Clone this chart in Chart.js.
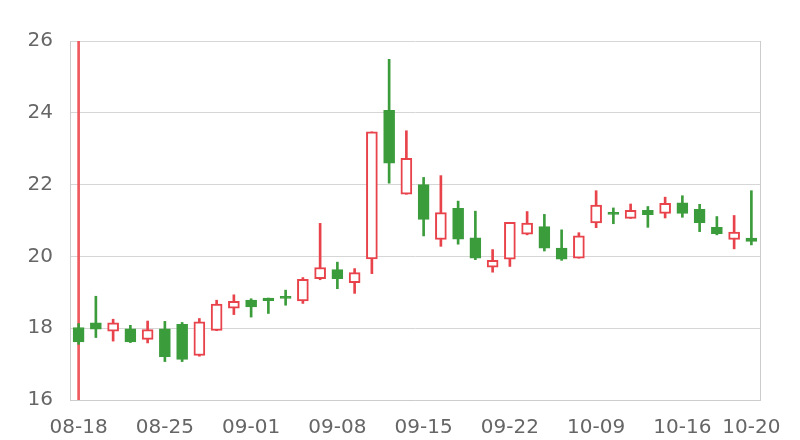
<!DOCTYPE html>
<html>
<head>
<meta charset="utf-8">
<script src="https://cdn.jsdelivr.net/npm/chart.js@4/dist/chart.umd.min.js"></script>
<style>
  html, body { margin: 0; padding: 0; background: #fff; }
</style>
</head>
<body>
<canvas id="kChart" width="800" height="440"></canvas>
<script>
// trading days (labels shown every 5th + last)
const dates = ['08-18', '08-19', '08-20', '08-21', '08-22', '08-25', '08-26', '08-27', '08-28', '08-29',
               '09-01', '09-02', '09-03', '09-04', '09-05', '09-08', '09-09', '09-10', '09-11', '09-12',
               '09-15', '09-16', '09-17', '09-18', '09-19', '09-22', '09-23', '09-24', '09-25', '09-26',
               '10-09', '10-10', '10-13', '10-14', '10-15', '10-16', '10-17', '10-18', '10-19', '10-20'];
const opens  = [18.02, 18.15, 17.92, 17.98, 17.69, 17.98, 18.11, 17.24, 17.94, 18.56,
                18.78, 18.84, 18.89, 18.76, 19.38, 19.63, 19.27, 19.93, 24.07, 21.73,
                22.00, 20.47, 21.34, 20.52, 19.70, 19.92, 20.62, 20.83, 20.23, 19.95,
                20.93, 21.23, 21.06, 21.28, 21.20, 21.49, 21.31, 20.81, 20.47, 20.51];
const closes = [17.62, 17.97, 18.15, 17.62, 17.96, 17.21, 17.13, 18.18, 18.67, 18.75,
                18.59, 18.77, 18.83, 19.36, 19.69, 19.38, 19.55, 23.47, 22.60, 22.73,
                21.03, 21.22, 20.48, 19.95, 19.89, 20.95, 20.93, 20.23, 19.92, 20.57,
                21.43, 21.17, 21.28, 21.16, 21.48, 21.20, 20.94, 20.63, 20.68, 20.42];
const lows   = [17.55, 17.74, 17.64, 17.60, 17.59, 17.07, 17.07, 17.22, 17.93, 18.38,
                18.31, 18.41, 18.64, 18.69, 19.35, 19.10, 18.97, 19.52, 22.04, 21.73,
                20.57, 20.28, 20.34, 19.91, 19.56, 19.72, 20.60, 20.15, 19.89, 19.95,
                20.80, 20.91, 21.06, 20.81, 21.07, 21.09, 20.69, 20.60, 20.21, 20.32];
const highs  = [18.13, 18.89, 18.25, 18.08, 18.20, 18.19, 18.16, 18.27, 18.78, 18.93,
                18.82, 18.84, 19.06, 19.41, 20.92, 19.84, 19.66, 23.47, 25.49, 23.50,
                22.20, 22.25, 21.54, 21.26, 20.19, 20.95, 21.25, 21.17, 20.74, 20.66,
                21.83, 21.35, 21.46, 21.39, 21.65, 21.69, 21.45, 21.11, 21.14, 21.83];
// vertical marker line on the first day
const markDate = '08-18';
const markRange = [16, 26];

const upColor = '#e8434b';
const downColor = '#3b9c3b';

const isUp = dates.map((d, i) => closes[i] >= opens[i]);
const bodies = dates.map((d, i) => [Math.min(opens[i], closes[i]), Math.max(opens[i], closes[i])]);
const wicks = dates.map((d, i) => [lows[i], highs[i]]);
const marks = dates.map(d => (d === markDate ? markRange : null));

Chart.defaults.font.family = 'DejaVu Sans';

const ctx = document.getElementById('kChart').getContext('2d');
const chart = new Chart(ctx, {
    type: 'bar',
    data: {
        labels: dates,
        datasets: [
            {
                // candle bodies, drawn on top
                data: bodies,
                grouped: false,
                barThickness: 11,
                backgroundColor: isUp.map(u => (u ? '#ffffff' : downColor)),
                borderColor: isUp.map(u => (u ? upColor : downColor)),
                borderWidth: isUp.map(u => (u ? 2 : 1)),
                borderSkipped: false,
            },
            {
                // high-low wicks
                data: wicks,
                grouped: false,
                barThickness: 2,
                backgroundColor: isUp.map(u => (u ? upColor : downColor)),
                borderWidth: 0,
            },
            {
                data: marks,
                grouped: false,
                barThickness: 2,
                backgroundColor: 'rgba(238, 80, 86, 0.95)',
                borderWidth: 0,
            },
        ],
    },
    options: {
        responsive: false,
        animation: false,
        devicePixelRatio: 1,
        layout: { padding: { top: 41, right: 40, left: 0, bottom: 0 } },
        plugins: { legend: { display: false }, tooltip: { enabled: false } },
        scales: {
            x: {
                offset: true,
                grid: { display: false },
                border: { display: true, color: '#cccccc' },
                ticks: {
                    color: '#666666',
                    font: { size: 20 },
                    padding: 8,
                    autoSkip: false,
                    maxRotation: 0,
                    callback: (val, i) => (i % 5 === 0 || i === dates.length - 1 ? dates[i] : ''),
                },
                afterFit: s => { s.height = 40; },
            },
            y: {
                min: 16,
                max: 26,
                ticks: { stepSize: 2, color: '#666666', font: { size: 20 }, padding: 17 },
                grid: { color: '#d6d6d6', drawTicks: false },
                border: { color: '#cccccc' },
                afterFit: s => { s.width = 70; },
            },
            y2: {
                position: 'right',
                min: 16,
                max: 26,
                ticks: { display: false },
                grid: { display: false },
                border: { display: true, color: '#cccccc' },
                afterFit: s => { s.width = 0; },
            },
        },
    },
});
</script>
</body>
</html>
